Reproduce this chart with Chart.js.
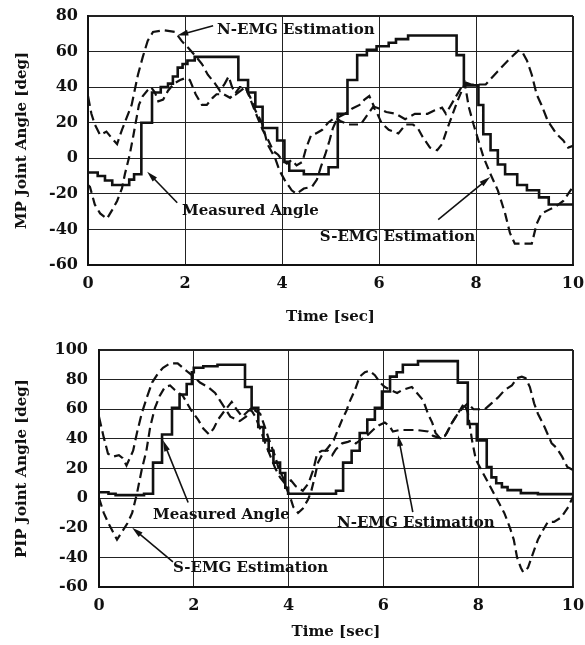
<!DOCTYPE html>
<html>
<head>
<meta charset="utf-8">
<script src="https://cdn.jsdelivr.net/npm/chart.js@4.4.1/dist/chart.umd.min.js"></script>
<style>
  html, body { margin: 0; padding: 0; background: #fff; }
  #wrap { position: relative; width: 585px; height: 645px; }
  #mpChart { position: absolute; left: 0; top: 0; }
  #pipChart { position: absolute; left: 0; top: 330px; }
</style>
</head>
<body>
<div id="wrap">
  <canvas id="mpChart" width="585" height="330"></canvas>
  <canvas id="pipChart" width="585" height="315"></canvas>
</div>
<script>
// MP joint (top panel) - time [sec] / angle [deg]
const mpMeasuredT = [0, 0.2, 0.35, 0.5, 0.85, 0.95, 1.1, 1.32, 1.5, 1.65, 1.75, 1.85, 1.95, 2.05, 2.2, 3.1, 3.3, 3.45, 3.6, 3.9, 4.05, 4.15, 4.45, 4.96, 5.15, 5.35, 5.55, 5.75, 5.95, 6.2, 6.35, 6.6, 7.6, 7.75, 8.05, 8.15, 8.3, 8.45, 8.6, 8.85, 9.05, 9.3, 9.5, 10];
const mpMeasuredDeg = [-8, -10, -12.5, -15, -12, -9, 20, 37, 40, 42, 46, 51, 53, 55, 57, 44, 37, 29, 17, 10, -2, -7, -9, -5, 25, 44, 58, 61, 63, 65, 67, 69, 58, 41, 30, 13.5, 4.5, -3.5, -9, -15, -18, -22, -26, -26];

const mpNemgT = [0, 0.07, 0.14, 0.25, 0.38, 0.5, 0.6, 0.7, 0.8, 0.9, 1.03, 1.13, 1.23, 1.34, 1.55, 1.8, 1.93, 2.07, 2.2, 2.35, 2.47, 2.62, 2.72, 2.82, 2.9, 2.97, 3.05, 3.15, 3.24, 3.35, 3.45, 3.6, 3.7, 3.86, 3.95, 4.05, 4.2, 4.3, 4.45, 4.62, 4.72, 4.8, 4.89, 4.98, 5.05, 5.15, 5.3, 5.45, 5.6, 5.7, 5.8, 5.9, 6.0, 6.15, 6.35, 6.54, 6.74, 7.0, 7.15, 7.3, 7.38, 7.57, 7.7, 7.8, 7.9, 8.2, 8.45, 8.66, 8.87, 8.95, 9.05, 9.15, 9.25, 9.35, 9.48, 9.58, 9.65, 9.8, 9.9, 10];
const mpNemgDeg = [35, 25, 19, 13, 15, 11, 8, 16, 23, 30, 47, 57, 66, 71, 72, 71, 66, 62, 58, 53, 47, 42, 38, 42, 46, 40, 36, 38, 40, 34, 27, 19, 8, 0, -7, -12, -18, -20, -17, -16, -12, -5, 2, 10, 17, 23, 25, 28, 30, 33, 35, 29, 28, 26, 25, 22, 25, 25, 27, 28.5, 25, 34, 40, 42.5, 41.5, 41.5, 49, 55, 60.5, 60, 55, 47, 36, 30, 21, 17, 14, 10, 6, 7];

const mpSemgT = [0, 0.04, 0.14, 0.25, 0.39, 0.5, 0.6, 0.7, 0.76, 0.86, 0.93, 1.05, 1.13, 1.22, 1.3, 1.38, 1.45, 1.55, 1.65, 1.77, 1.9, 2.0, 2.1, 2.22, 2.35, 2.45, 2.57, 2.65, 2.8, 2.93, 3.05, 3.13, 3.25, 3.35, 3.45, 3.6, 3.72, 3.82, 3.92, 4.0, 4.1, 4.2, 4.3, 4.42, 4.5, 4.6, 4.7, 4.83, 4.95, 5.1, 5.2, 5.36, 5.5, 5.62, 5.75, 5.88, 5.95, 6.05, 6.2, 6.4, 6.55, 6.7, 6.8, 6.9, 7.05, 7.2, 7.3, 7.4, 7.52, 7.63, 7.77, 7.85, 7.95, 8.05, 8.15, 8.3, 8.45, 8.6, 8.7, 8.8, 9.15, 9.25, 9.35, 9.5, 9.65, 9.8, 9.9, 10];
const mpSemgDeg = [-15, -16, -26, -31, -34, -29, -24, -17, -9, 2, 12, 30, 35, 38, 40, 37, 32, 33, 38, 42, 44, 45, 44, 36, 30, 30, 34, 36, 36, 34, 37, 40, 40, 33, 26, 16, 10, 4, 2, -1, -3, -1, -4, -2, 6, 13, 14, 16, 20, 23, 21, 19, 19, 19, 24, 29, 26, 20, 16, 14, 19, 19, 17, 12, 6, 4.5, 8, 16, 25, 33, 42, 29, 19, 10, 1, -9, -18, -31, -42, -48, -48, -37, -31, -29, -27, -24, -20, -16];

// PIP joint (bottom panel)
const pipMeasuredT = [0, 0.2, 0.35, 0.95, 1.14, 1.33, 1.54, 1.7, 1.85, 1.96, 2.0, 2.2, 2.5, 3.08, 3.22, 3.36, 3.47, 3.58, 3.68, 3.82, 3.93, 3.99, 5.0, 5.15, 5.33, 5.5, 5.66, 5.82, 5.97, 6.14, 6.28, 6.41, 6.73, 7.57, 7.78, 7.97, 8.18, 8.28, 8.38, 8.5, 8.62, 8.9, 9.26, 10];
const pipMeasuredDeg = [4, 3, 2, 3, 24, 43, 61, 70, 77, 85, 88, 89, 90, 75, 61, 48, 39, 32, 24, 17, 7, 3, 5, 24, 32, 44, 53, 61, 72, 82, 85, 90, 92.5, 78, 50, 39, 21, 14, 10, 7.4, 5.4, 3.4, 2.7, 2.7];

const pipNemgT = [0, 0.1, 0.19, 0.3, 0.42, 0.5, 0.58, 0.72, 0.8, 0.9, 1.01, 1.12, 1.24, 1.35, 1.5, 1.66, 1.77, 1.88, 2.0, 2.13, 2.3, 2.45, 2.55, 2.65, 2.77, 2.97, 3.1, 3.2, 3.3, 3.42, 3.52, 3.62, 3.72, 3.82, 3.92, 4.05, 4.15, 4.3, 4.42, 4.52, 4.6, 4.7, 4.83, 4.92, 5.0, 5.13, 5.25, 5.34, 5.42, 5.55, 5.65, 5.78, 5.9, 6.03, 6.12, 6.2, 6.35, 6.5, 6.7, 6.94, 7.05, 7.15, 7.25, 7.34, 7.45, 7.57, 7.68, 7.78, 7.9, 8.14, 8.28, 8.42, 8.56, 8.71, 8.82, 8.92, 9.0, 9.09, 9.18, 9.26, 9.4, 9.55, 9.65, 9.77, 9.88, 10];
const pipNemgDeg = [55, 41, 30, 28, 29, 27, 22, 32, 44, 57, 68, 78, 84, 88, 91, 91, 88, 85, 82, 78, 75, 71, 66, 61, 55, 52, 55, 60, 55, 45, 36, 28, 20, 14, 10, 12, 8, 5, 10, 19, 30, 32, 32, 29, 33, 37, 38, 39, 37, 40, 42, 46, 49, 51, 49, 45, 46, 46, 46, 45, 42, 41, 40, 44, 51, 57, 61, 64, 60, 60, 64, 68, 73, 76, 81, 82, 81, 75, 64, 57, 48, 37, 34, 28, 21, 19];

const pipSemgT = [0, 0.1, 0.2, 0.38, 0.5, 0.6, 0.7, 0.8, 0.9, 1.0, 1.08, 1.18, 1.28, 1.39, 1.5, 1.6, 1.77, 1.95, 2.09, 2.2, 2.32, 2.42, 2.51, 2.65, 2.8, 2.9, 3.02, 3.12, 3.22, 3.3, 3.4, 3.5, 3.57, 3.65, 3.72, 3.78, 3.88, 3.95, 4.03, 4.1, 4.2, 4.3, 4.41, 4.48, 4.55, 4.62, 4.72, 4.83, 4.95, 5.13, 5.22, 5.3, 5.4, 5.5, 5.61, 5.7, 5.82, 5.93, 6.03, 6.15, 6.29, 6.4, 6.6, 6.84, 6.94, 7.03, 7.1, 7.18, 7.3, 7.45, 7.57, 7.7, 7.78, 7.87, 7.95, 8.1, 8.25, 8.4, 8.55, 8.67, 8.75, 8.82, 8.9, 8.95, 9.05, 9.16, 9.26, 9.36, 9.47, 9.6, 9.75, 9.9, 10];
const pipSemgDeg = [0, -10, -17, -28, -22, -17, -10, 3, 19, 32, 48, 61, 69, 75, 76, 73, 69, 59, 53, 47, 43, 47, 53, 59, 65, 60, 55, 58, 61, 59, 57, 48, 41, 34, 28, 21, 14, 7, 1, -6, -10, -7, -1, 5, 14, 24, 30, 34, 39, 53, 59, 66, 73, 82, 85, 86, 83, 78, 75, 73, 71, 73, 75, 66, 57, 51, 44, 41, 42, 51, 57, 64, 58, 39, 26, 17, 8, -1, -10, -20, -28, -40, -47, -50, -47, -37, -28, -22, -16, -16, -13, -6, 1];

const timeTicks = [0, 2, 4, 6, 8, 10];

const ink = "#111";
const serif = "'DejaVu Serif', serif";

function pts(ts, vs) {
    return ts.map((t, i) => ({ x: t, y: vs[i] }));
}

// Text labels with arrows, placed in data units
const callouts = {
    id: "callouts",
    afterDatasetsDraw(chart, args, opts) {
        const { ctx } = chart;
        const xs = chart.scales.x, ys = chart.scales.y;
        ctx.save();
        ctx.font = "bold 15px " + serif;
        ctx.fillStyle = ink;
        ctx.strokeStyle = ink;
        ctx.textAlign = "left";
        ctx.textBaseline = "middle";
        opts.items.forEach(it => {
            ctx.fillText(it.text, xs.getPixelForValue(it.at[0]), ys.getPixelForValue(it.at[1]));
            const x0 = xs.getPixelForValue(it.from[0]), y0 = ys.getPixelForValue(it.from[1]);
            const x1 = xs.getPixelForValue(it.to[0]), y1 = ys.getPixelForValue(it.to[1]);
            const a = Math.atan2(y1 - y0, x1 - x0);
            ctx.lineWidth = 1.6;
            ctx.beginPath();
            ctx.moveTo(x0, y0);
            ctx.lineTo(x1 - 6 * Math.cos(a), y1 - 6 * Math.sin(a));
            ctx.stroke();
            ctx.beginPath();
            ctx.moveTo(x1, y1);
            ctx.lineTo(x1 - 11 * Math.cos(a) + 3 * Math.sin(a), y1 - 11 * Math.sin(a) - 3 * Math.cos(a));
            ctx.lineTo(x1 - 11 * Math.cos(a) - 3 * Math.sin(a), y1 - 11 * Math.sin(a) + 3 * Math.cos(a));
            ctx.closePath();
            ctx.fill();
        });
        ctx.restore();
    }
};

function makePanel(id, cfg) {
    const frame = (max) => (c) => (c.tick && c.tick.value === max ? 2 : 1);
    new Chart(document.getElementById(id).getContext("2d"), {
        type: "line",
        data: {
            datasets: [
                { label: "Measured Angle", data: cfg.measured, stepped: true, borderColor: ink, borderWidth: 2.6, pointRadius: 0, fill: false },
                { label: "N-EMG Estimation", data: cfg.nemg, borderColor: ink, borderWidth: 2.2, borderDash: [10, 5], pointRadius: 0, fill: false },
                { label: "S-EMG Estimation", data: cfg.semg, borderColor: ink, borderWidth: 2.2, borderDash: [9, 5], pointRadius: 0, fill: false }
            ]
        },
        options: {
            responsive: false,
            animation: false,
            layout: { padding: { top: cfg.top, right: 12, left: 0, bottom: 0 } },
            plugins: {
                legend: { display: false },
                tooltip: { enabled: false },
                callouts: { items: cfg.callouts }
            },
            scales: {
                x: {
                    type: "linear",
                    min: 0,
                    max: 10,
                    afterBuildTicks: (s) => { s.ticks = timeTicks.map(v => ({ value: v })); },
                    ticks: { padding: 9, maxRotation: 0, color: ink, font: { family: serif, size: 16, weight: "bold" } },
                    grid: { color: "#222", lineWidth: frame(10), drawTicks: false },
                    border: { color: ink, width: 2 },
                    title: { display: true, text: "Time [sec]", color: ink, padding: { top: 0, bottom: 4 }, font: { family: serif, size: 15, weight: "bold" } },
                    afterFit: (s) => { s.height = cfg.xHeight; s.paddingLeft = 0; s.paddingRight = 0; }
                },
                y: {
                    min: cfg.yMin,
                    max: cfg.yMax,
                    ticks: { stepSize: 20, padding: cfg.yPad, color: ink, font: { family: serif, size: 16, weight: "bold" } },
                    grid: { color: "#222", lineWidth: frame(cfg.yMax), drawTicks: false },
                    border: { color: ink, width: 2 },
                    title: { display: true, text: cfg.yTitle, color: ink, padding: { top: 13, bottom: 0 }, font: { family: serif, size: 15, weight: "bold" } },
                    afterFit: (s) => { s.width = cfg.yWidth; s.paddingTop = 0; s.paddingBottom = 0; }
                }
            }
        },
        plugins: [callouts]
    });
}

makePanel("mpChart", {
    measured: pts(mpMeasuredT, mpMeasuredDeg),
    nemg: pts(mpNemgT, mpNemgDeg),
    semg: pts(mpSemgT, mpSemgDeg),
    yMin: -60, yMax: 80, yTitle: "MP Joint Angle [deg]",
    top: 16, xHeight: 65, yWidth: 88, yPad: 10,
    callouts: [
        { text: "N-EMG Estimation", at: [2.66, 72], from: [2.58, 74.5], to: [1.84, 69] },
        { text: "Measured Angle", at: [1.94, -29.5], from: [1.84, -25], to: [1.22, -7.5] },
        { text: "S-EMG Estimation", at: [4.78, -44.5], from: [7.22, -34.5], to: [8.29, -10.5] }
    ]
});

makePanel("pipChart", {
    measured: pts(pipMeasuredT, pipMeasuredDeg),
    nemg: pts(pipNemgT, pipNemgDeg),
    semg: pts(pipSemgT, pipSemgDeg),
    yMin: -60, yMax: 100, yTitle: "PIP Joint Angle [deg]",
    top: 20, xHeight: 58, yWidth: 99, yPad: 11,
    callouts: [
        { text: "Measured Angle", at: [1.14, -11.5], from: [1.88, -3], to: [1.35, 39] },
        { text: "N-EMG Estimation", at: [5.02, -17], from: [6.62, -9.5], to: [6.31, 42.5] },
        { text: "S-EMG Estimation", at: [1.56, -47], from: [1.56, -43], to: [0.7, -20] }
    ]
});
</script>
</body>
</html>
